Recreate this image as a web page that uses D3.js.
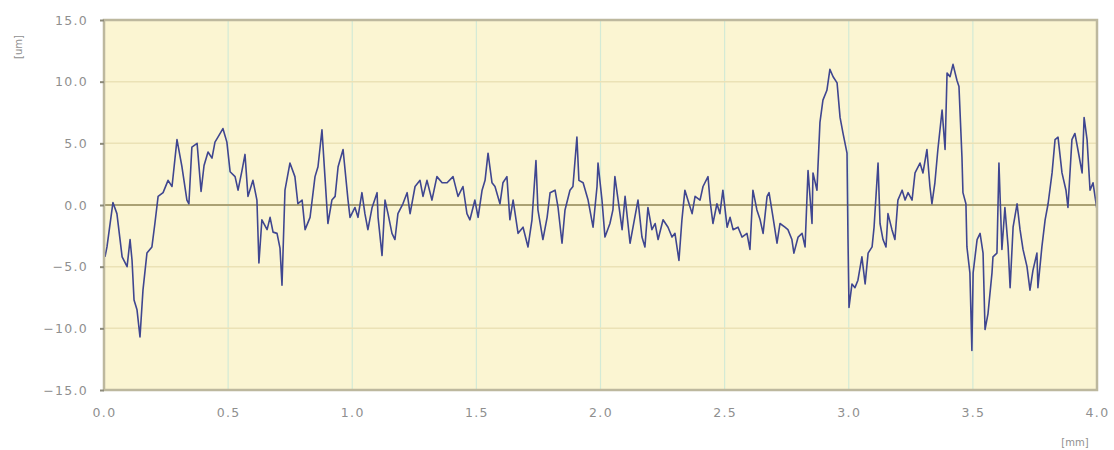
<!DOCTYPE html>
<html><head><meta charset="utf-8">
<script src="https://cdn.jsdelivr.net/npm/d3@7"></script>
<style>body{margin:0;background:#fff}svg{display:block}</style>
</head><body>
<script>
const positionMm = [0.004,0.012,0.036,0.052,0.073,0.093,0.105,0.113,0.121,0.133,0.145,0.157,0.173,0.193,0.205,0.218,0.238,0.258,0.274,0.294,0.314,0.334,0.342,0.354,0.375,0.391,0.403,0.419,0.435,0.447,0.459,0.479,0.495,0.508,0.528,0.540,0.556,0.568,0.580,0.600,0.616,0.624,0.636,0.657,0.669,0.681,0.697,0.709,0.717,0.729,0.749,0.769,0.781,0.798,0.810,0.830,0.850,0.862,0.878,0.890,0.902,0.918,0.931,0.943,0.963,0.983,0.991,1.011,1.023,1.039,1.051,1.063,1.080,1.100,1.104,1.120,1.132,1.144,1.160,1.172,1.184,1.204,1.221,1.233,1.253,1.273,1.285,1.301,1.321,1.341,1.362,1.382,1.406,1.426,1.446,1.462,1.474,1.494,1.507,1.523,1.535,1.547,1.563,1.575,1.595,1.607,1.623,1.635,1.648,1.668,1.688,1.708,1.724,1.740,1.748,1.768,1.785,1.797,1.817,1.829,1.845,1.857,1.877,1.889,1.905,1.913,1.930,1.950,1.970,1.986,1.990,2.006,2.018,2.038,2.050,2.058,2.071,2.087,2.099,2.119,2.131,2.151,2.167,2.179,2.191,2.207,2.220,2.232,2.252,2.272,2.288,2.300,2.316,2.328,2.340,2.352,2.369,2.381,2.401,2.413,2.433,2.441,2.453,2.469,2.481,2.493,2.510,2.522,2.534,2.554,2.570,2.590,2.602,2.614,2.630,2.643,2.655,2.671,2.679,2.695,2.711,2.723,2.743,2.755,2.771,2.779,2.796,2.812,2.824,2.836,2.852,2.856,2.872,2.876,2.884,2.896,2.912,2.924,2.937,2.953,2.965,2.977,2.993,2.997,3.001,3.013,3.025,3.037,3.053,3.066,3.078,3.094,3.102,3.118,3.126,3.138,3.150,3.158,3.174,3.186,3.198,3.215,3.227,3.239,3.255,3.267,3.287,3.299,3.315,3.327,3.335,3.347,3.359,3.376,3.388,3.396,3.408,3.420,3.436,3.444,3.456,3.460,3.472,3.476,3.488,3.496,3.501,3.517,3.529,3.541,3.549,3.561,3.577,3.581,3.597,3.605,3.617,3.629,3.642,3.650,3.662,3.678,3.690,3.702,3.718,3.730,3.742,3.758,3.762,3.778,3.791,3.803,3.819,3.831,3.843,3.859,3.875,3.883,3.899,3.911,3.923,3.940,3.948,3.960,3.972,3.984,4.000];
const heightUm = [-4.2,-3.4,0.2,-0.7,-4.2,-5.0,-2.8,-4.5,-7.7,-8.5,-10.7,-6.9,-3.9,-3.4,-1.5,0.7,1.0,2.0,1.5,5.3,3.1,0.4,0.1,4.7,5.0,1.1,3.2,4.3,3.8,5.1,5.5,6.2,5.1,2.7,2.3,1.2,2.8,4.1,0.7,2.0,0.4,-4.7,-1.2,-2.0,-1.0,-2.2,-2.3,-3.5,-6.5,1.2,3.4,2.3,0.1,0.4,-2.0,-1.0,2.3,3.1,6.1,2.3,-1.5,0.4,0.7,3.1,4.5,0.4,-1.0,-0.2,-1.0,1.0,-0.7,-2.0,-0.2,1.0,-1.0,-4.1,0.4,-0.7,-2.3,-2.8,-0.7,0.1,1.0,-0.7,1.5,2.0,0.7,2.0,0.4,2.3,1.8,1.8,2.3,0.7,1.5,-0.7,-1.2,0.4,-1.0,1.2,2.0,4.2,1.8,1.5,0.1,1.8,2.3,-1.2,0.4,-2.3,-1.8,-3.4,-1.2,3.6,-0.4,-2.8,-1.0,1.0,1.2,-0.2,-3.1,-0.4,1.2,1.5,5.5,2.0,1.8,0.4,-1.8,1.5,3.4,0.4,-2.6,-1.5,-0.4,2.3,0.4,-2.0,0.7,-3.1,-1.8,0.4,-2.6,-3.4,-0.2,-2.0,-1.5,-2.8,-1.2,-1.8,-2.6,-2.3,-4.5,-1.2,1.2,0.4,-0.7,0.7,0.4,1.5,2.3,0.4,-1.5,0.1,-0.7,1.2,-1.8,-1.0,-2.0,-1.8,-2.6,-2.3,-3.6,1.2,-0.4,-1.2,-2.3,0.7,1.0,-1.0,-3.1,-1.5,-1.8,-2.0,-2.8,-3.9,-2.6,-2.3,-3.4,2.8,-1.5,2.6,1.2,3.1,6.7,8.5,9.3,11.0,10.4,9.9,7.1,5.8,4.2,-2.8,-8.3,-6.4,-6.7,-6.1,-4.2,-6.4,-3.9,-3.4,-1.8,3.4,-1.5,-2.8,-3.4,-0.7,-2.0,-2.8,0.4,1.2,0.4,1.0,0.4,2.6,3.4,2.6,4.5,1.5,0.1,1.8,4.5,7.7,4.5,10.7,10.4,11.4,10.1,9.6,3.9,1.0,0.1,-3.4,-5.5,-11.8,-5.5,-2.8,-2.3,-3.9,-10.1,-8.8,-5.5,-4.2,-3.9,3.4,-3.6,-0.2,-3.4,-6.7,-1.8,0.1,-2.0,-3.6,-5.0,-6.9,-5.3,-3.9,-6.7,-3.4,-1.2,0.1,2.6,5.3,5.5,2.6,1.2,-0.2,5.3,5.8,4.5,2.6,7.1,5.3,1.2,1.8,-0.4];
const xTicks = [0,0.5,1.0,1.5,2.0,2.5,3.0,3.5,4.0];
const yTicks = [-15,-10,-5,0,5,10,15];
const xUnit = "[mm]";
const yUnit = "[um]";

const W = 1114, H = 450;
const m = {left:104, right:17, top:20, bottom:60};
const svg = d3.select("body").append("svg").attr("width",W).attr("height",H);
const x = d3.scaleLinear().domain([0,4]).range([m.left, W-m.right]);
const y = d3.scaleLinear().domain([-15,15]).range([H-m.bottom, m.top]);

svg.append("rect").attr("x",x(0)).attr("y",y(15)).attr("width",x(4)-x(0)).attr("height",y(-15)-y(15)).attr("fill","#fbf5d2");

// vertical grid
svg.append("g").selectAll("line").data(xTicks.filter(d=>d>0&&d<4)).join("line")
  .attr("x1",d=>x(d)).attr("x2",d=>x(d)).attr("y1",y(15)).attr("y2",y(-15))
  .attr("stroke","#d3ead6").attr("stroke-width",1.2);
// horizontal grid
svg.append("g").selectAll("line").data(yTicks.filter(d=>d!==0&&Math.abs(d)<15)).join("line")
  .attr("x1",x(0)).attr("x2",x(4)).attr("y1",d=>y(d)).attr("y2",d=>y(d))
  .attr("stroke","#ebe2b6").attr("stroke-width",1.5);
// zero line
svg.append("line").attr("x1",x(0)).attr("x2",x(4)).attr("y1",y(0)).attr("y2",y(0))
  .attr("stroke","#aaa174").attr("stroke-width",2);

// series
const line = d3.line().x((d,i)=>x(positionMm[i])).y(d=>y(d));
svg.append("path").datum(heightUm).attr("d",line).attr("fill","none")
  .attr("stroke","#3f4690").attr("stroke-width",1.6).attr("stroke-linejoin","round");

// border
svg.append("rect").attr("x",x(0)).attr("y",y(15)).attr("width",x(4)-x(0)).attr("height",y(-15)-y(15))
  .attr("fill","none").attr("stroke","#bdb89e").attr("stroke-width",2.5);

// axes
const yAxis = svg.append("g").attr("transform",`translate(${x(0)},0)`)
  .call(d3.axisLeft(y).tickValues(yTicks).tickSize(4).tickPadding(12).tickFormat(d3.format(".1f")));
yAxis.select(".domain").remove();
yAxis.selectAll(".tick line").attr("stroke","#8c8a7a").attr("stroke-width",2);
yAxis.selectAll("text").attr("fill","#8f8f8f").style("font-family","DejaVu Sans").style("font-size","12.5px").style("letter-spacing","1.3px");

const xAxis = svg.append("g").attr("transform",`translate(0,${y(-15)})`)
  .call(d3.axisBottom(x).tickValues(xTicks).tickSize(0).tickPadding(18).tickFormat(d3.format(".1f")));
xAxis.select(".domain").remove();
xAxis.selectAll("text").attr("fill","#8f8f8f").style("font-family","DejaVu Sans").style("font-size","12.5px").style("letter-spacing","1.3px");

svg.append("text").attr("x",1075).attr("y",446).attr("text-anchor","middle")
  .attr("fill","#8f8f8f").style("font-family","DejaVu Sans").style("font-size","10px").text(xUnit);
svg.append("text").attr("transform","translate(22,47) rotate(-90)").attr("text-anchor","middle")
  .attr("fill","#8f8f8f").style("font-family","DejaVu Sans").style("font-size","10px").text(yUnit);
</script>
</body></html>
